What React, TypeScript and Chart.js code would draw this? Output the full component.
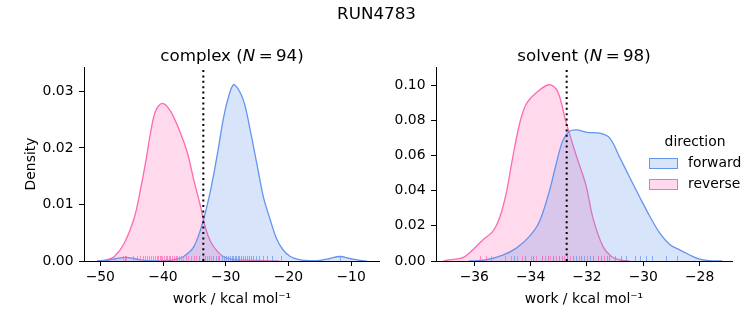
import React, { useEffect, useRef } from "react";
import { Chart, registerables } from "chart.js";
Chart.register(...registerables);

const FONT = "'DejaVu Sans', 'Liberation Sans', sans-serif";
const BLUE = "#6495ED";
const PINK = "#FF69B4";
const BLUE_FILL = "rgba(100,149,237,0.25)";
const PINK_FILL = "rgba(255,105,180,0.25)";
const BLUE_RUG = "rgba(100,149,237,0.7)";
const PINK_RUG = "rgba(255,105,180,0.7)";

const SUPTITLE = "RUN4783";
const LEGEND_TITLE = "direction";
const DIRECTIONS = ["forward", "reverse"];

// ---------- complex panel ----------
const complexN = 94;
const complexFwdX = [-50.5, -49, -47.5, -46, -44.5, -43, -41, -39, -38, -36.7, -35.1, -33.7, -32.4, -31.3, -30.3, -29.2, -28.6, -27.2, -26.1, -25.05, -24, -22.9, -21.9, -20.8, -19.7, -18.1, -16.5, -15, -13.5, -11.8, -10, -8.5, -7.5];
const complexFwdY = [0, 0.0001, 0.0004, 0.00065, 0.0004, 0.0001, 0.00003, 0.0001, 0.0003, 0.0008, 0.0025, 0.0067, 0.0126, 0.0191, 0.0256, 0.0303, 0.0312, 0.0285, 0.0232, 0.0173, 0.0114, 0.0073, 0.004, 0.0019, 0.0008, 0.0002, 0.00005, 0.0001, 0.0004, 0.0008, 0.0004, 0.0001, 0];
const complexRevX = [-50.5, -49, -47.8, -46.2, -44.6, -43.6, -42.8, -42.0, -41.2, -40.1, -38.8, -37.2, -36.1, -35.1, -34.0, -33.2, -32.4, -31.4, -30.4, -29, -27, -25, -23, -21.5];
const complexRevY = [0, 0.0002, 0.00076, 0.0031, 0.0076, 0.0126, 0.0173, 0.0226, 0.0265, 0.0279, 0.0265, 0.0226, 0.0191, 0.0144, 0.0096, 0.0058, 0.0034, 0.0018, 0.0008, 0.0003, 0.00015, 0.0001, 0.00003, 0];
const complexFwdRug = [-46.0, -34.2, -33.3, -32.6, -32.0, -31.5, -31.0, -30.6, -30.2, -29.9, -29.6, -29.3, -29.0, -28.8, -28.5, -28.3, -28.0, -27.8, -27.5, -27.2, -26.9, -26.6, -26.3, -26.0, -25.6, -25.2, -24.7, -24.1, -23.4, -22.6, -21.2, -11.8];
const complexRevRug = [-46.4, -45.9, -44.8, -44.1, -43.6, -43.2, -42.9, -42.5, -42.2, -41.9, -41.6, -41.3, -41.0, -40.8, -40.5, -40.3, -40.1, -39.9, -39.6, -39.4, -39.1, -38.9, -38.6, -38.3, -38.0, -37.7, -37.4, -37.1, -36.8, -36.4, -36.0, -35.6, -35.1, -34.7, -34.2, -33.6, -33.0, -32.4, -31.3];
const complexMarker = -33.57;

// ---------- solvent panel ----------
const solventN = 98;
const solventFwdX = [-36.2, -35.6, -34.99, -34.52, -34.05, -33.69, -33.34, -33.1, -32.87, -32.63, -32.37, -32.0, -31.54, -31.19, -30.83, -30.48, -30.12, -29.77, -29.42, -29.06, -28.71, -28.35, -28.0, -27.64, -27.2];
const solventFwdY = [0, 0.0006, 0.0034, 0.0072, 0.0139, 0.0224, 0.0395, 0.0548, 0.068, 0.0738, 0.0747, 0.0733, 0.0728, 0.07, 0.0588, 0.0476, 0.0362, 0.0255, 0.016, 0.0094, 0.0063, 0.0034, 0.001, 0.0002, 0];
const solventRevX = [-37.1, -36.9, -36.41, -36.06, -35.7, -35.35, -35.11, -34.88, -34.64, -34.4, -34.17, -33.81, -33.34, -33.04, -32.75, -32.39, -32.04, -31.78, -31.43, -31.13, -30.83, -30.5];
const solventRevY = [0, 0.0006, 0.0019, 0.0063, 0.012, 0.0167, 0.0243, 0.0377, 0.0586, 0.0776, 0.089, 0.0957, 0.1004, 0.0966, 0.0795, 0.0605, 0.0434, 0.024, 0.0082, 0.0025, 0.0006, 0];
const solventFwdRug = [-34.6, -34.2, -33.9, -33.6, -33.4, -33.2, -33.0, -32.9, -32.7, -32.5, -32.4, -32.2, -32.1, -31.9, -31.8, -31.6, -31.5, -31.3, -31.2, -31.0, -30.8, -30.6, -30.3, -30.1, -29.9, -29.7, -29.2, -28.8];
const solventRevRug = [-35.8, -35.6, -35.4, -34.9, -34.7, -34.5, -34.3, -34.2, -34.0, -33.9, -33.8, -33.6, -33.5, -33.4, -33.3, -33.2, -33.1, -33.0, -32.9, -32.8, -32.7, -32.6, -32.5, -32.3, -32.2, -32.0, -31.8, -31.6, -31.4];
const solventMarker = -32.72;

const TICK_PX = 13.9;

const toPoints = (xs: number[], ys: number[]) => xs.map((x, i) => ({ x, y: ys[i] }));
const fmtMinus = (v: number) => String(v).replace("-", "\u2212");

const overlayPlugin = {
  id: "overlay",
  afterDatasetsDraw(chart: any, _args: any, opts: any) {
    const { ctx, chartArea, scales } = chart;
    const xs = scales.x;
    ctx.save();
    ctx.lineWidth = 1;
    for (const r of opts.rugs) {
      ctx.strokeStyle = r.color;
      for (const v of r.values) {
        const px = Math.round(xs.getPixelForValue(v)) + 0.5;
        ctx.beginPath();
        ctx.moveTo(px, chartArea.bottom);
        ctx.lineTo(px, chartArea.bottom - 5);
        ctx.stroke();
      }
    }
    const mx = xs.getPixelForValue(opts.marker);
    ctx.strokeStyle = "#000";
    ctx.lineWidth = 2;
    ctx.setLineDash([2, 3.4]);
    ctx.beginPath();
    ctx.moveTo(mx, chartArea.bottom);
    ctx.lineTo(mx, chartArea.top);
    ctx.stroke();
    ctx.restore();
  },
};

type PanelProps = {
  left: number;
  width: number;
  fwdX: number[]; fwdY: number[]; revX: number[]; revY: number[];
  fwdRug: number[]; revRug: number[]; marker: number;
  xMin: number; xMax: number; xStep: number;
  yMax: number; yStep: number;
  yAxisWidth: number; padRight: number; yTitle?: string;
};

function Panel(p: PanelProps) {
  const ref = useRef<HTMLCanvasElement | null>(null);
  useEffect(() => {
    if (!ref.current) return;
    const chart = new Chart(ref.current, {
      type: "line",
      data: {
        datasets: [
          {
            label: DIRECTIONS[0],
            data: toPoints(p.fwdX, p.fwdY),
            borderColor: BLUE,
            backgroundColor: BLUE_FILL,
            borderWidth: 1.3,
            pointRadius: 0,
            fill: "origin",
            tension: 0.35,
          },
          {
            label: DIRECTIONS[1],
            data: toPoints(p.revX, p.revY),
            borderColor: PINK,
            backgroundColor: PINK_FILL,
            borderWidth: 1.3,
            pointRadius: 0,
            fill: "origin",
            tension: 0.35,
          },
        ],
      },
      options: {
        animation: false,
        responsive: false,
        maintainAspectRatio: false,
        devicePixelRatio: 1,
        layout: { padding: { left: 0, right: p.padRight, top: 67, bottom: 0 } },
        plugins: {
          legend: { display: false },
          tooltip: { enabled: false },
          title: { display: false },
          overlay: {
            rugs: [
              { values: p.fwdRug, color: BLUE_RUG },
              { values: p.revRug, color: PINK_RUG },
            ],
            marker: p.marker,
          },
        } as any,
        scales: {
          x: {
            type: "linear",
            min: p.xMin,
            max: p.xMax,
            grid: { display: true, drawOnChartArea: false, drawTicks: true, tickLength: 5, color: "#000", lineWidth: 1 },
            border: { display: true, color: "#000", width: 1 },
            ticks: {
              stepSize: p.xStep,
              includeBounds: false,
              autoSkip: false,
              maxRotation: 0,
              padding: 3.4,
              color: "#000",
              font: { family: FONT, size: TICK_PX },
              callback: (v: any) => fmtMinus(Number(v)),
            },
            title: {
              display: true,
              text: "work / kcal mol\u207B\u00B9",
              color: "#000",
              font: { family: FONT, size: TICK_PX },
              padding: { top: 0, bottom: 17.6 },
            },
            afterFit: (s: any) => {
              s.height = 64;
              s.paddingLeft = 0;
              s.paddingRight = 0;
            },
          },
          y: {
            type: "linear",
            min: 0,
            max: p.yMax,
            grid: { display: true, drawOnChartArea: false, drawTicks: true, tickLength: 5, color: "#000", lineWidth: 1 },
            border: { display: true, color: "#000", width: 1 },
            ticks: {
              stepSize: p.yStep,
              includeBounds: false,
              autoSkip: false,
              padding: 5.5,
              color: "#000",
              font: { family: FONT, size: TICK_PX },
              callback: (v: any) => Number(v).toFixed(2),
            },
            title: {
              display: !!p.yTitle,
              text: p.yTitle || "",
              color: "#000",
              font: { family: FONT, size: TICK_PX },
              padding: { top: 23.3, bottom: 0 },
            },
            afterFit: (s: any) => {
              s.width = p.yAxisWidth;
              s.paddingTop = 0;
              s.paddingBottom = 0;
            },
          },
        },
      } as any,
      plugins: [overlayPlugin],
    });
    return () => chart.destroy();
  }, []);
  return (
    <canvas
      ref={ref}
      width={p.width}
      height={325}
      style={{ position: "absolute", left: p.left, top: 0, width: p.width, height: 325 }}
    />
  );
}

const textStyle = (cx: number, cy: number, size: number, lh: number): React.CSSProperties => ({
  position: "absolute",
  left: cx - 150,
  width: 300,
  top: cy - lh / 2,
  height: lh,
  lineHeight: `${lh}px`,
  fontSize: size,
  fontFamily: FONT,
  textAlign: "center",
  color: "#000",
  whiteSpace: "nowrap",
});

export default function App() {
  return (
    <div style={{ position: "fixed", left: 0, top: 0, width: 753, height: 325, background: "#fff", overflow: "hidden" }}>
      <Panel
        left={0} width={380}
        fwdX={complexFwdX} fwdY={complexFwdY} revX={complexRevX} revY={complexRevY}
        fwdRug={complexFwdRug} revRug={complexRevRug} marker={complexMarker}
        xMin={-52.6} xMax={-5.39} xStep={10}
        yMax={0.03432} yStep={0.01}
        yAxisWidth={84} padRight={0} yTitle="Density"
      />
      <Panel
        left={380} width={373}
        fwdX={solventFwdX} fwdY={solventFwdY} revX={solventRevX} revY={solventRevY}
        fwdRug={solventFwdRug} revRug={solventRevRug} marker={solventMarker}
        xMin={-37.36} xMax={-26.85} xStep={2}
        yMax={0.1105} yStep={0.02}
        yAxisWidth={56} padRight={21}
      />
      <div style={textStyle(376.5, 13, 16.7, 20)}>{SUPTITLE}</div>
      <div style={textStyle(232, 54.5, 16.7, 20)}>
        complex (<i>N</i>&thinsp;=&thinsp;{complexN})
      </div>
      <div style={textStyle(584, 54.5, 16.7, 20)}>
        solvent (<i>N</i>&thinsp;=&thinsp;{solventN})
      </div>
      <div style={textStyle(695, 141, 13.9, 18)}>{LEGEND_TITLE}</div>
      {DIRECTIONS.map((d, i) => (
        <React.Fragment key={d}>
          <div
            style={{
              position: "absolute",
              left: 648.5,
              top: 157.5 + i * 21,
              width: 27,
              height: 9,
              background: i === 0 ? BLUE_FILL : PINK_FILL,
              border: `1px solid ${i === 0 ? BLUE : PINK}`,
            }}
          />
          <div
            style={{
              position: "absolute",
              left: 688,
              top: 162 - 9 + i * 20.5,
              height: 18,
              lineHeight: "18px",
              fontSize: 13.9,
              fontFamily: FONT,
              color: "#000",
              whiteSpace: "nowrap",
            }}
          >
            {d}
          </div>
        </React.Fragment>
      ))}
    </div>
  );
}
